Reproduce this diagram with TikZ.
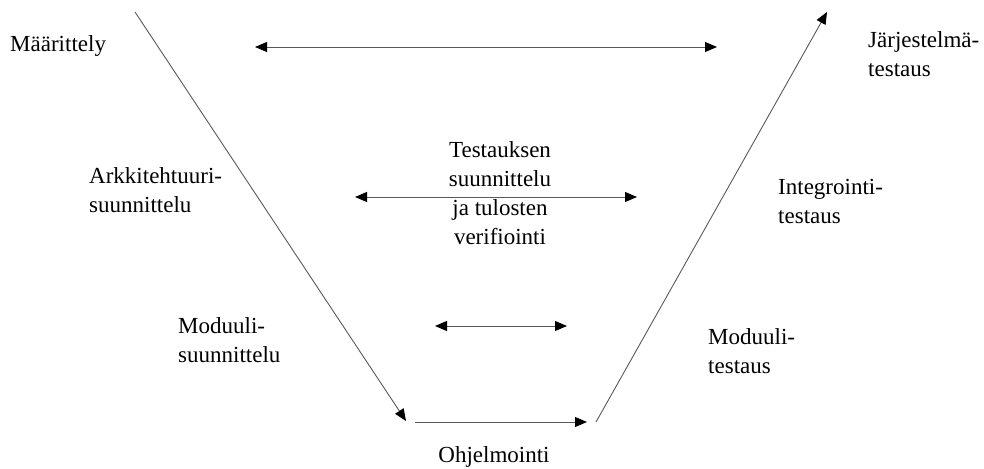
\documentclass[tikz,border=0pt]{standalone}
\usepackage{fontspec}
\setmainfont{Liberation Serif}
\usetikzlibrary{arrows.meta}

\tikzset{
  phase/.style={anchor=base west, inner sep=0pt, align=left, font=\fontsize{23}{29}\selectfont},
  vline/.style={draw=black!65, line width=0.9pt},
  tip/.style={-{Triangle[length=12pt,width=10pt,color=black]}},
  tips/.style={{Triangle[length=12pt,width=10pt,color=black]}-{Triangle[length=12pt,width=10pt,color=black]}}
}

\begin{document}
\begin{tikzpicture}[x=1pt,y=-1pt]
\useasboundingbox (0,0) rectangle (984,468);
%the V shape
\coordinate (top left) at (135,12);
\coordinate (bottom left) at (406,421);
\coordinate (code start) at (415,422);
\coordinate (code end) at (587,422);
\coordinate (bottom right) at (596,422);
\coordinate (top right) at (827,12);
\draw[vline, tip] (top left) -- (bottom left);
\draw[vline, tip] (code start) -- (code end);
\draw[vline, tip] (bottom right) -- (top right);
%the arrows between the sides
\coordinate (sys a) at (255,47);
\coordinate (sys b) at (717,47);
\coordinate (int a) at (355,197);
\coordinate (int b) at (637,197);
\coordinate (mod a) at (435,326);
\coordinate (mod b) at (567,326);
\draw[vline, tips] (sys a) -- (sys b);
\draw[vline, tips] (int a) -- (int b);
\draw[vline, tips] (mod a) -- (mod b);
%the labels (base = last line)
\node[phase] (maar) at (10,52) {Määrittely};
\node[phase] (ark) at (89,212) {Arkkitehtuuri-\\suunnittelu};
\node[phase] (modsuun) at (178,362) {Moduuli-\\suunnittelu};
\node[phase, anchor=base] (ohj) at (494,462) {Ohjelmointi};
\node[phase] (modtest) at (708,373) {Moduuli-\\testaus};
\node[phase] (inttest) at (778,223) {Integrointi-\\testaus};
\node[phase] (systest) at (868,77) {Järjestelmä-\\testaus};
\node[phase, anchor=base, align=center] (testaus) at (500,244) {Testauksen\\suunnittelu\\ja tulosten\\verifiointi};
\end{tikzpicture}
\end{document}
